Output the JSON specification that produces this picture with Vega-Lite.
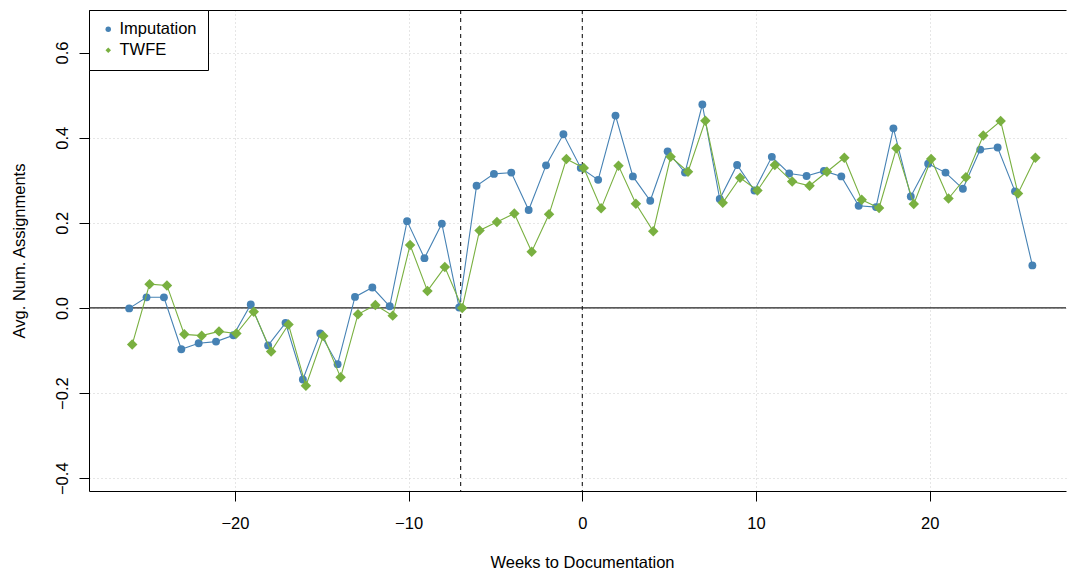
{
  "$schema": "https://vega.github.io/schema/vega-lite/v6.json",
  "width": 977,
  "height": 481,
  "autosize": {"type": "none"},
  "padding": {"left": 89, "top": 10, "right": 1, "bottom": 86},
  "background": "white",
  "config": {
    "view": {"stroke": null},
    "font": "Liberation Sans",
    "axis": {"labelFont": "Liberation Sans", "titleFont": "Liberation Sans"}
  },
  "datasets": {
    "est": [
      {"week": -26, "series": "Imputation", "value": -0.001},
      {"week": -25, "series": "Imputation", "value": 0.025},
      {"week": -24, "series": "Imputation", "value": 0.025},
      {"week": -23, "series": "Imputation", "value": -0.097},
      {"week": -22, "series": "Imputation", "value": -0.083},
      {"week": -21, "series": "Imputation", "value": -0.079},
      {"week": -20, "series": "Imputation", "value": -0.064},
      {"week": -19, "series": "Imputation", "value": 0.008},
      {"week": -18, "series": "Imputation", "value": -0.088},
      {"week": -17, "series": "Imputation", "value": -0.035},
      {"week": -16, "series": "Imputation", "value": -0.168},
      {"week": -15, "series": "Imputation", "value": -0.060},
      {"week": -14, "series": "Imputation", "value": -0.132},
      {"week": -13, "series": "Imputation", "value": 0.026},
      {"week": -12, "series": "Imputation", "value": 0.048},
      {"week": -11, "series": "Imputation", "value": 0.004},
      {"week": -10, "series": "Imputation", "value": 0.204},
      {"week": -9, "series": "Imputation", "value": 0.117},
      {"week": -8, "series": "Imputation", "value": 0.198},
      {"week": -7, "series": "Imputation", "value": 0.001},
      {"week": -6, "series": "Imputation", "value": 0.287},
      {"week": -5, "series": "Imputation", "value": 0.315},
      {"week": -4, "series": "Imputation", "value": 0.318},
      {"week": -3, "series": "Imputation", "value": 0.230},
      {"week": -2, "series": "Imputation", "value": 0.335},
      {"week": -1, "series": "Imputation", "value": 0.408},
      {"week": 0, "series": "Imputation", "value": 0.329},
      {"week": 1, "series": "Imputation", "value": 0.301},
      {"week": 2, "series": "Imputation", "value": 0.452},
      {"week": 3, "series": "Imputation", "value": 0.309},
      {"week": 4, "series": "Imputation", "value": 0.252},
      {"week": 5, "series": "Imputation", "value": 0.368},
      {"week": 6, "series": "Imputation", "value": 0.318},
      {"week": 7, "series": "Imputation", "value": 0.478},
      {"week": 8, "series": "Imputation", "value": 0.256},
      {"week": 9, "series": "Imputation", "value": 0.336},
      {"week": 10, "series": "Imputation", "value": 0.276},
      {"week": 11, "series": "Imputation", "value": 0.355},
      {"week": 12, "series": "Imputation", "value": 0.316},
      {"week": 13, "series": "Imputation", "value": 0.310},
      {"week": 14, "series": "Imputation", "value": 0.322},
      {"week": 15, "series": "Imputation", "value": 0.309},
      {"week": 16, "series": "Imputation", "value": 0.240},
      {"week": 17, "series": "Imputation", "value": 0.237},
      {"week": 18, "series": "Imputation", "value": 0.422},
      {"week": 19, "series": "Imputation", "value": 0.262},
      {"week": 20, "series": "Imputation", "value": 0.339},
      {"week": 21, "series": "Imputation", "value": 0.318},
      {"week": 22, "series": "Imputation", "value": 0.280},
      {"week": 23, "series": "Imputation", "value": 0.372},
      {"week": 24, "series": "Imputation", "value": 0.377},
      {"week": 25, "series": "Imputation", "value": 0.274},
      {"week": 26, "series": "Imputation", "value": 0.100},
      {"week": -26, "series": "TWFE", "value": -0.086},
      {"week": -25, "series": "TWFE", "value": 0.056},
      {"week": -24, "series": "TWFE", "value": 0.053},
      {"week": -23, "series": "TWFE", "value": -0.062},
      {"week": -22, "series": "TWFE", "value": -0.065},
      {"week": -21, "series": "TWFE", "value": -0.055},
      {"week": -20, "series": "TWFE", "value": -0.060},
      {"week": -19, "series": "TWFE", "value": -0.009},
      {"week": -18, "series": "TWFE", "value": -0.102},
      {"week": -17, "series": "TWFE", "value": -0.039},
      {"week": -16, "series": "TWFE", "value": -0.183},
      {"week": -15, "series": "TWFE", "value": -0.066},
      {"week": -14, "series": "TWFE", "value": -0.163},
      {"week": -13, "series": "TWFE", "value": -0.015},
      {"week": -12, "series": "TWFE", "value": 0.007},
      {"week": -11, "series": "TWFE", "value": -0.018},
      {"week": -10, "series": "TWFE", "value": 0.148},
      {"week": -9, "series": "TWFE", "value": 0.040},
      {"week": -8, "series": "TWFE", "value": 0.096},
      {"week": -7, "series": "TWFE", "value": 0.000},
      {"week": -6, "series": "TWFE", "value": 0.182},
      {"week": -5, "series": "TWFE", "value": 0.202},
      {"week": -4, "series": "TWFE", "value": 0.222},
      {"week": -3, "series": "TWFE", "value": 0.132},
      {"week": -2, "series": "TWFE", "value": 0.220},
      {"week": -1, "series": "TWFE", "value": 0.350},
      {"week": 0, "series": "TWFE", "value": 0.329},
      {"week": 1, "series": "TWFE", "value": 0.234},
      {"week": 2, "series": "TWFE", "value": 0.334},
      {"week": 3, "series": "TWFE", "value": 0.245},
      {"week": 4, "series": "TWFE", "value": 0.180},
      {"week": 5, "series": "TWFE", "value": 0.355},
      {"week": 6, "series": "TWFE", "value": 0.320},
      {"week": 7, "series": "TWFE", "value": 0.440},
      {"week": 8, "series": "TWFE", "value": 0.247},
      {"week": 9, "series": "TWFE", "value": 0.306},
      {"week": 10, "series": "TWFE", "value": 0.276},
      {"week": 11, "series": "TWFE", "value": 0.336},
      {"week": 12, "series": "TWFE", "value": 0.297},
      {"week": 13, "series": "TWFE", "value": 0.287},
      {"week": 14, "series": "TWFE", "value": 0.320},
      {"week": 15, "series": "TWFE", "value": 0.353},
      {"week": 16, "series": "TWFE", "value": 0.254},
      {"week": 17, "series": "TWFE", "value": 0.235},
      {"week": 18, "series": "TWFE", "value": 0.375},
      {"week": 19, "series": "TWFE", "value": 0.244},
      {"week": 20, "series": "TWFE", "value": 0.350},
      {"week": 21, "series": "TWFE", "value": 0.257},
      {"week": 22, "series": "TWFE", "value": 0.307},
      {"week": 23, "series": "TWFE", "value": 0.405},
      {"week": 24, "series": "TWFE", "value": 0.439},
      {"week": 25, "series": "TWFE", "value": 0.269},
      {"week": 26, "series": "TWFE", "value": 0.353}
    ],
    "vlines": [{"week": -7}, {"week": 0}],
    "hline": [{"value": 0}]
  },
  "layer": [
    {
      "data": {"name": "vlines"},
      "mark": {"type": "rule", "color": "black", "strokeWidth": 1, "strokeDash": [4, 4]},
      "encoding": {
        "x": {
          "field": "week", "type": "quantitative",
          "scale": {"domain": [-28.4, 27.85], "nice": false, "zero": false},
          "axis": {"orient": "top", "domain": true, "domainColor": "black", "domainWidth": 1, "ticks": false, "labels": false, "grid": false, "title": null}
        }
      }
    },
    {
      "data": {"name": "hline"},
      "mark": {"type": "rule", "color": "#222222", "strokeWidth": 1.2},
      "encoding": {
        "y": {"field": "value", "type": "quantitative", "scale": {"domain": [-0.43, 0.70], "nice": false, "zero": false}}
      }
    },
    {
      "data": {"name": "est"},
      "transform": [{"filter": "datum.series === 'Imputation'"}],
      "mark": {"type": "line", "color": "#4682B4", "strokeWidth": 1.1, "xOffset": -1.5},
      "encoding": {
        "x": {
          "field": "week", "type": "quantitative",
          "scale": {"domain": [-28.4, 27.85], "nice": false, "zero": false},
          "axis": {
            "orient": "bottom", "values": [-20, -10, 0, 10, 20], "format": "d",
            "title": "Weeks to Documentation",
            "grid": true, "gridColor": "#CCCCCC", "gridDash": [1, 3], "gridWidth": 1,
            "domainColor": "black", "domainWidth": 1,
            "tickColor": "black", "tickSize": 10, "tickWidth": 1,
            "labelFontSize": 16.5, "labelColor": "black", "labelPadding": 14, "labelBaseline": "top", "labelFlush": false,
            "titleFontSize": 16.5, "titleFontWeight": "normal", "titleColor": "black",
            "titleX": 493, "titleY": 76, "titleBaseline": "alphabetic"
          }
        },
        "y": {
          "field": "value", "type": "quantitative",
          "scale": {"domain": [-0.43, 0.70], "nice": false, "zero": false},
          "axis": {
            "values": [-0.4, -0.2, 0, 0.2, 0.4, 0.6], "format": ".1f",
            "title": "Avg. Num. Assignments",
            "grid": true, "gridColor": "#CCCCCC", "gridDash": [1, 3], "gridWidth": 1,
            "domainColor": "black", "domainWidth": 1,
            "tickColor": "black", "tickSize": 10, "tickWidth": 1,
            "labelFontSize": 16.5, "labelColor": "black", "labelAngle": 270, "labelAlign": "center", "labelBaseline": "alphabetic", "labelPadding": 12, "labelFlush": false,
            "titleFontSize": 16.5, "titleFontWeight": "normal", "titleColor": "black",
            "titleAngle": 270, "titleX": -65, "titleY": 240.5, "titleBaseline": "alphabetic", "titleAlign": "center"
          }
        }
      }
    },
    {
      "data": {"name": "est"},
      "transform": [{"filter": "datum.series === 'Imputation'"}],
      "mark": {"type": "point", "filled": true, "opacity": 1, "size": 62, "xOffset": -1.5},
      "encoding": {
        "x": {"field": "week", "type": "quantitative", "scale": {"domain": [-28.4, 27.85], "nice": false, "zero": false}, "axis": null},
        "y": {"field": "value", "type": "quantitative", "scale": {"domain": [-0.43, 0.70], "nice": false, "zero": false}},
        "color": {
          "field": "series", "type": "nominal",
          "scale": {"domain": ["Imputation", "TWFE"], "range": ["#4682B4", "#79B040"]},
          "legend": {
            "title": null, "orient": "none", "legendX": 0, "legendY": 0,
            "strokeColor": "black", "fillColor": "white", "padding": 11, "cornerRadius": 0,
            "labelFont": "Liberation Sans", "labelFontSize": 16.5, "labelColor": "black",
            "symbolSize": 30, "rowPadding": 4, "labelOffset": 3, "symbolStrokeWidth": 0
          }
        },
        "shape": {
          "field": "series", "type": "nominal",
          "scale": {"domain": ["Imputation", "TWFE"], "range": ["circle", "diamond"]},
          "legend": {
            "title": null, "orient": "none", "legendX": 0, "legendY": 0,
            "strokeColor": "black", "fillColor": "white", "padding": 11, "cornerRadius": 0,
            "labelFont": "Liberation Sans", "labelFontSize": 16.5, "labelColor": "black",
            "symbolSize": 30, "rowPadding": 4, "labelOffset": 3, "symbolStrokeWidth": 0
          }
        }
      }
    },
    {
      "data": {"name": "est"},
      "transform": [{"filter": "datum.series === 'TWFE'"}],
      "mark": {"type": "line", "color": "#79B040", "strokeWidth": 1.1, "xOffset": 1.5},
      "encoding": {
        "x": {"field": "week", "type": "quantitative", "scale": {"domain": [-28.4, 27.85], "nice": false, "zero": false}, "axis": null},
        "y": {"field": "value", "type": "quantitative", "scale": {"domain": [-0.43, 0.70], "nice": false, "zero": false}}
      }
    },
    {
      "data": {"name": "est"},
      "transform": [{"filter": "datum.series === 'TWFE'"}],
      "mark": {"type": "point", "filled": true, "opacity": 1, "size": 110, "xOffset": 1.5},
      "encoding": {
        "x": {"field": "week", "type": "quantitative", "scale": {"domain": [-28.4, 27.85], "nice": false, "zero": false}, "axis": null},
        "y": {"field": "value", "type": "quantitative", "scale": {"domain": [-0.43, 0.70], "nice": false, "zero": false}},
        "color": {"field": "series", "type": "nominal", "scale": {"domain": ["Imputation", "TWFE"], "range": ["#4682B4", "#79B040"]}},
        "shape": {"field": "series", "type": "nominal", "scale": {"domain": ["Imputation", "TWFE"], "range": ["circle", "diamond"]}}
      }
    }
  ],
  "resolve": {"axis": {"x": "independent"}}
}
